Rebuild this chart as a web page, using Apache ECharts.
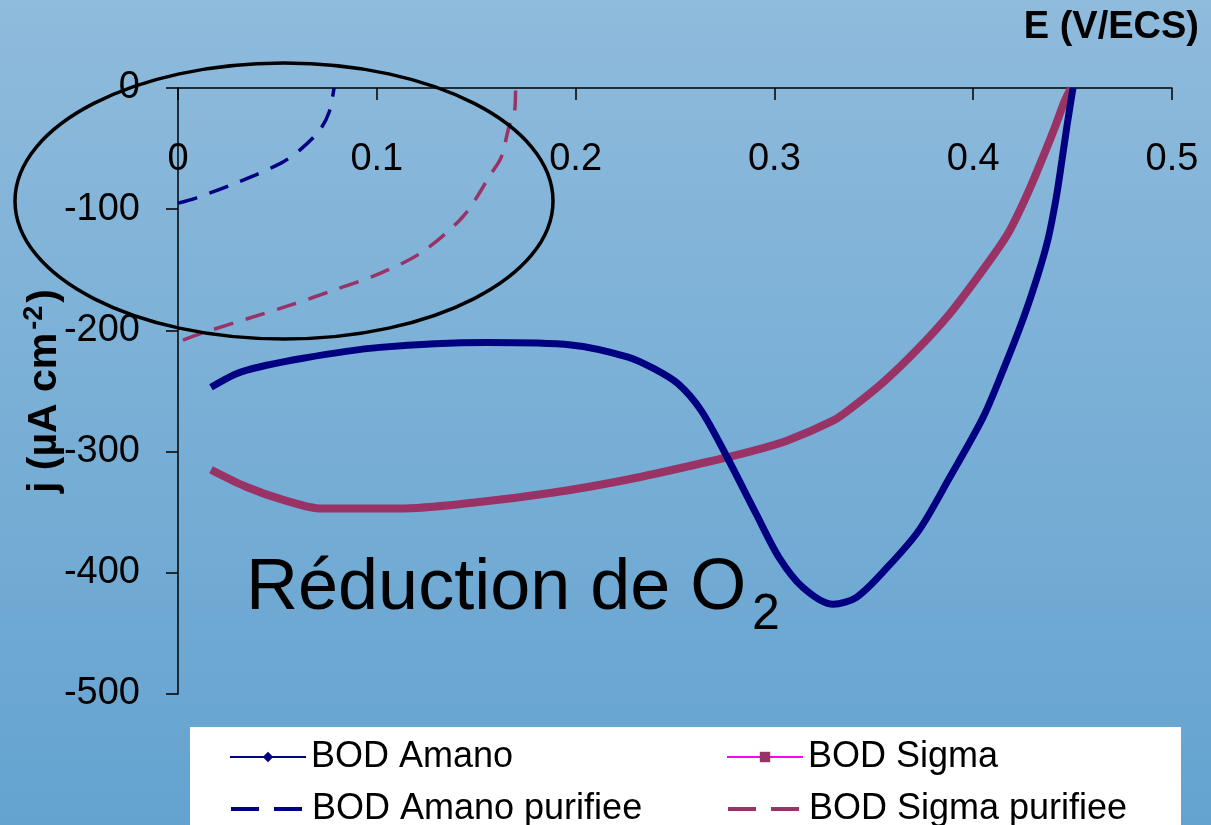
<!DOCTYPE html>
<html>
<head>
<meta charset="utf-8">
<script src="https://cdn.jsdelivr.net/npm/echarts@6/dist/echarts.min.js"></script>
<style>
html,body{margin:0;padding:0;}
#chart{width:1211px;height:825px;}
</style>
</head>
<body>
<div id="chart"></div>
<script>
// ---- data ----
const xTicks = [0, 0.1, 0.2, 0.3, 0.4, 0.5];
const yTicks = [0, -100, -200, -300, -400, -500];
const seriesNames = ['BOD Amano', 'BOD Sigma', 'BOD Amano purifiee', 'BOD Sigma purifiee'];

const amanoE = [0.0166, 0.0322, 0.0629, 0.1016, 0.1554, 0.1977, 0.2264, 0.2399, 0.2515, 0.2631, 0.2757, 0.2907, 0.3022, 0.3143, 0.3295, 0.3415, 0.3571, 0.3727, 0.3883, 0.4049, 0.4150, 0.4250, 0.4326, 0.4376, 0.4416, 0.4447, 0.4472, 0.4502];
const amanoJ = [-247, -234, -223, -214, -210, -212, -222, -232, -244, -266, -303, -351, -387, -412, -426, -420, -395, -365, -321, -272, -233, -191, -154, -125, -92, -59, -31, 0];

const sigmaE = [0.0166, 0.0342, 0.0533, 0.0724, 0.1112, 0.1494, 0.1881, 0.2264, 0.2651, 0.2877, 0.3063, 0.3300, 0.3380, 0.3546, 0.3717, 0.3883, 0.4049, 0.4175, 0.4271, 0.4351, 0.4412, 0.4457, 0.4492];
const sigmaJ = [-315, -329, -340, -347, -347, -342, -334, -323, -309, -300, -291, -274, -265, -243, -216, -186, -150, -120, -88, -57, -32, -12, 0];

const amanoPurE = [0, 0.0086, 0.0297, 0.0518, 0.0614, 0.0712, 0.0760, 0.0785];
const amanoPurJ = [-95, -91, -78, -62, -51, -35, -20, 0];

const sigmaPurE = [0.0025, 0.0144, 0.0356, 0.0568, 0.0780, 0.1001, 0.1222, 0.1434, 0.1578, 0.1626, 0.1665, 0.1694, 0.1698];
const sigmaPurJ = [-208, -201, -190, -179, -167, -154, -136, -106, -70, -57, -32, -18, 0];

// ---- build ----
const zip = (a, b) => a.map((v, i) => [v, b[i]]);
const FONT = '"Liberation Sans", Arial, sans-serif';
const NAVY = '#000080';
const PLUM = '#993366';

const chart = echarts.init(document.getElementById('chart'), null, {renderer: 'canvas'});

function legendBox(left, top, item) {
  return {
    left: left, top: top, orient: 'horizontal',
    itemWidth: 76, itemHeight: 13, itemGap: 10,
    textStyle: {fontSize: 36, color: '#000', fontFamily: FONT},
    data: [item]
  };
}

const option = {
  animation: false,
  backgroundColor: {
    type: 'linear', x: 0, y: 0, x2: 0, y2: 1,
    colorStops: [{offset: 0, color: '#8fbbdc'}, {offset: 1, color: '#64a3d0'}]
  },
  grid: {left: 178, right: 39, top: 88, bottom: 131, containLabel: false},
  xAxis: {
    type: 'value', position: 'top',
    min: xTicks[0], max: xTicks[xTicks.length - 1], interval: 0.1,
    axisLine: {onZero: false, lineStyle: {color: '#000', width: 1.5}},
    axisTick: {inside: true, length: 12, lineStyle: {color: '#000', width: 1.5}},
    axisLabel: {inside: true, margin: 53, fontSize: 38, color: '#000', fontFamily: FONT},
    splitLine: {show: false}
  },
  yAxis: {
    type: 'value',
    min: yTicks[yTicks.length - 1], max: yTicks[0], interval: 100,
    axisLine: {show: true, onZero: false, lineStyle: {color: '#000', width: 1.5}},
    axisTick: {show: true, inside: false, length: 12, lineStyle: {color: '#000', width: 1.5}},
    axisLabel: {margin: 38, fontSize: 38, color: '#000', fontFamily: FONT},
    splitLine: {show: false},
    name: '{n|j (µA cm}{s|-2}{n|)}',
    nameLocation: 'middle', nameGap: 110, nameRotate: 90, nameMoveOverlap: false,
    nameTextStyle: {
      color: '#000', fontFamily: FONT,
      rich: {
        n: {fontSize: 41, fontWeight: 'bold', fontFamily: FONT, color: '#000'},
        s: {fontSize: 27, fontWeight: 'bold', fontFamily: FONT, color: '#000', padding: [0, 3, 20, 3]}
      }
    }
  },
  legend: [
    legendBox(224, 734, {name: seriesNames[0], lineStyle: {width: 2, color: NAVY}}),
    legendBox(224, 786, {name: seriesNames[2], lineStyle: {width: 4, color: NAVY, type: [28, 15]}, itemStyle: {opacity: 0}}),
    legendBox(721, 734, {name: seriesNames[1], lineStyle: {width: 2, color: '#ff00ff'}, itemStyle: {color: PLUM}}),
    legendBox(721, 786, {name: seriesNames[3], lineStyle: {width: 4, color: PLUM, type: [28, 15]}, itemStyle: {opacity: 0}})
  ],
  series: [
    {
      name: seriesNames[0], type: 'line', data: zip(amanoE, amanoJ),
      smooth: 0.3, symbol: 'diamond', symbolSize: 10, showSymbol: false,
      color: NAVY, lineStyle: {color: NAVY, width: 7}, itemStyle: {color: NAVY}, z: 3
    },
    {
      name: seriesNames[1], type: 'line', data: zip(sigmaE, sigmaJ),
      smooth: 0.3, symbol: 'rect', symbolSize: 8, showSymbol: false,
      color: PLUM, lineStyle: {color: PLUM, width: 8}, itemStyle: {color: PLUM}, z: 2
    },
    {
      name: seriesNames[2], type: 'line', data: zip(amanoPurE, amanoPurJ),
      smooth: 0.3, symbol: 'none',
      color: NAVY, lineStyle: {color: NAVY, width: 3.5, type: [20, 13]}, z: 2
    },
    {
      name: seriesNames[3], type: 'line', data: zip(sigmaPurE, sigmaPurJ),
      smooth: 0.3, symbol: 'none',
      color: PLUM, lineStyle: {color: PLUM, width: 3.5, type: [20, 13]}, z: 2
    }
  ],
  graphic: [
    {
      type: 'rect', left: 190, top: 727, z: 0,
      shape: {width: 991, height: 110},
      style: {fill: '#ffffff'}
    },
    {
      type: 'ellipse', z: 20, silent: true,
      shape: {cx: 284, cy: 201, rx: 269, ry: 138},
      style: {fill: 'none', stroke: '#000', lineWidth: 3.5}
    },
    {
      type: 'text', z: 20, x: 1199, y: 28,
      style: {text: 'E (V/ECS)', font: 'bold 38px ' + FONT, fill: '#000', align: 'right', verticalAlign: 'middle'}
    },
    {
      type: 'text', z: 20, x: 246, y: 589,
      style: {text: 'Réduction de O', font: '72px ' + FONT, fill: '#000', align: 'left', verticalAlign: 'middle'}
    },
    {
      type: 'text', z: 20, x: 752, y: 615,
      style: {text: '2', font: '50px ' + FONT, fill: '#000', align: 'left', verticalAlign: 'middle'}
    }
  ]
};
chart.setOption(option);
</script>
</body>
</html>
